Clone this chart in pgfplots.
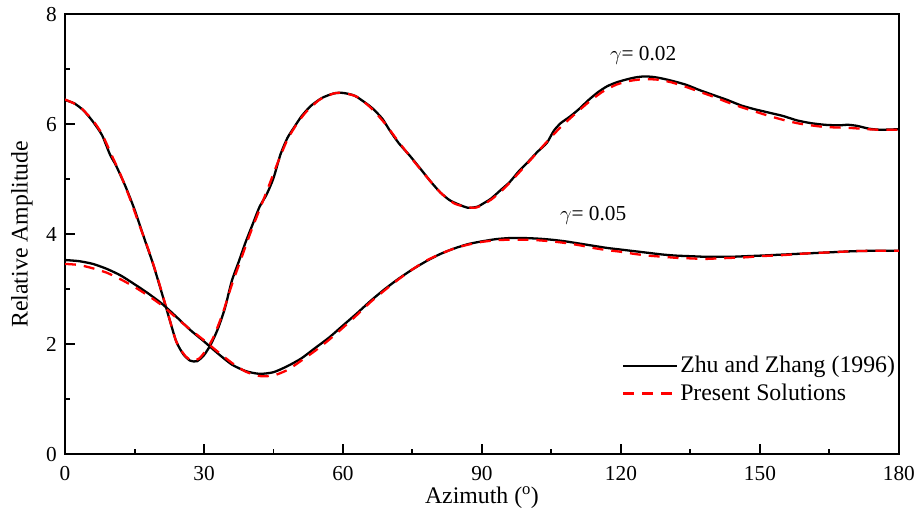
\documentclass[border={4bp 0bp 0bp 0bp}]{standalone}
\usepackage{pgfplots}
\pgfplotsset{compat=1.18}
\usepackage{fontspec}
\setmainfont{Liberation Serif}
\definecolor{curveRed}{HTML}{FF0000}

\begin{document}
\fontsize{21.5}{25}\selectfont
\begin{tikzpicture}
\begin{axis}[
  scale only axis,
  width=838bp, height=442bp,
  xmin=0, xmax=180, ymin=0, ymax=8,
  xtick={0,30,...,180}, ytick={0,2,...,8},
  minor xtick={15,45,...,165}, minor ytick={1,3,5,7},
  tick align=inside, xtick pos=bottom, ytick pos=left,
  major tick length=10bp, minor tick length=5.5bp,
  tick style={black,line width=2bp},
  axis line style={line width=2.4bp},
  ticklabel style={font=\fontsize{21.5}{25}\selectfont},
  /pgf/number format/assume math mode=true,
  xticklabel style={yshift=-5bp},
  yticklabel style={xshift=-1bp},
  xlabel={Azimuth ($^{\rm o}$)}, ylabel={Relative Amplitude},
  label style={font=\fontsize{24}{28}\selectfont},
  xlabel style={yshift=9bp}, ylabel style={yshift=-1bp},
  legend style={at={(0.668,0.228)}, anchor=north west, draw=none, fill=none,
    font=\fontsize{24}{28}\selectfont, row sep=4bp, inner sep=0pt,
    cells={anchor=west}},
  legend image code/.code={\draw[#1] (0bp,0bp) -- (54bp,0bp);},
  legend cell align=left,
]
% gamma = 0.02, Zhu and Zhang
\addplot[black, line width=2.3bp, smooth, tension=0.4] coordinates {
 (0,6.44) (2,6.38) (4,6.25) (6,6.05) (8,5.80) (9.7,5.45) (11,5.25) (13,4.88)
 (15,4.45) (17,3.95) (19,3.46) (21,2.90) (22.6,2.44) (24,2.05) (25.5,1.82)
 (27,1.70) (28.5,1.69) (30,1.80) (31.5,2.00) (33,2.28) (34.5,2.65) (36,3.15)
 (37.5,3.50) (39,3.86) (40.5,4.18) (42,4.50) (43.5,4.72) (45,5.02) (46.5,5.45)
 (48,5.75) (49.5,5.95) (51,6.14) (53,6.33) (55.5,6.48) (58,6.56) (60,6.57)
 (62.5,6.52) (65,6.38) (66.5,6.28) (68.5,6.10) (70,5.90) (72,5.66) (74.5,5.42)
 (77,5.16) (79,4.95) (81,4.76) (83,4.62) (85,4.54) (87,4.48) (89,4.50)
 (90.5,4.57) (92,4.65) (94,4.80) (96,4.95) (98,5.15) (100,5.32) (102,5.50)
 (104,5.66) (105.5,5.88) (107,6.02) (109,6.14) (111,6.28) (113,6.44) (115,6.58)
 (117,6.69) (119,6.76) (121,6.81) (123,6.85) (125,6.87) (127,6.86) (129,6.83)
 (131,6.79) (134,6.72) (137,6.62) (140,6.53) (143,6.44) (146,6.34) (149,6.27)
 (152,6.21) (155,6.15) (158,6.07) (161,6.02) (164,5.99) (167,5.98) (169,5.99)
 (171,5.97) (173.5,5.92) (176,5.90) (180,5.91)
};
\addlegendentry{Zhu and Zhang (1996)}
% gamma = 0.02, present
\addplot[curveRed, line width=2.3bp, dash pattern=on 11bp off 8bp, smooth, tension=0.4] coordinates {
 (0,6.45) (3,6.33) (6,6.07) (8,5.82) (10,5.45) (12,5.08) (14,4.65) (16,4.18)
 (18,3.72) (20,3.20) (22,2.62) (24,2.05) (26,1.78) (27.5,1.70) (29,1.74)
 (30.5,1.90) (32,2.12) (34,2.55) (36,3.08) (38,3.55) (40,4.02) (42,4.45)
 (44,4.88) (46,5.32) (48,5.72) (50,6.00) (52,6.22) (55,6.45) (58,6.56) (60,6.57)
 (63,6.50) (66,6.30) (69,6.02) (72,5.68) (75,5.36) (78,5.05) (81,4.76) (84,4.56)
 (87,4.49) (89,4.49) (92,4.63) (95,4.85) (98,5.12) (101,5.40) (104,5.68)
 (107,5.95) (110,6.18) (113,6.40) (116,6.59) (119,6.72) (122,6.79) (125,6.82)
 (128,6.81) (131,6.76) (134,6.68) (137,6.59) (140,6.50) (143,6.40) (146,6.31)
 (149,6.23) (152,6.15) (155,6.08) (158,6.02) (161,5.98) (164,5.95) (167,5.94)
 (170,5.93) (173,5.91) (176,5.90) (180,5.90)
};
\addlegendentry{Present Solutions}
% gamma = 0.05, Zhu and Zhang
\addplot[black, line width=2.3bp, smooth, tension=0.4, forget plot] coordinates {
 (0,3.53) (3,3.51) (6,3.46) (9,3.37) (12,3.25) (15,3.09) (18,2.92) (21,2.73)
 (24,2.50) (27,2.26) (30,2.05) (33,1.83) (36,1.63) (39,1.51) (42,1.46) (45,1.49)
 (48,1.60) (51,1.74) (54,1.93) (57,2.12) (60,2.34) (63,2.56) (66,2.79) (69,3.00)
 (72,3.19) (75,3.36) (78,3.51) (81,3.64) (84,3.74) (87,3.82) (90,3.87) (93,3.91)
 (96,3.93) (99,3.93) (102,3.92) (105,3.90) (108,3.87) (111,3.83) (114,3.79)
 (117,3.75) (120,3.72) (123,3.69) (126,3.66) (129,3.63) (132,3.61) (135,3.60)
 (138,3.59) (141,3.59) (144,3.59) (147,3.60) (150,3.61) (155,3.63) (160,3.65)
 (165,3.67) (170,3.69) (175,3.70) (180,3.70)
};
% gamma = 0.05, present
\addplot[curveRed, line width=2.3bp, dash pattern=on 11bp off 8bp, smooth, tension=0.4, forget plot] coordinates {
 (0,3.46) (3,3.44) (6,3.38) (9,3.30) (12,3.18) (15,3.04) (18,2.88) (21,2.70)
 (24,2.48) (27,2.27) (30,2.07) (33,1.86) (36,1.66) (39,1.50) (42,1.42) (45,1.43)
 (48,1.53) (51,1.70) (54,1.88) (57,2.08) (60,2.30) (63,2.53) (66,2.77) (69,2.98)
 (72,3.18) (75,3.36) (78,3.52) (81,3.64) (84,3.74) (87,3.81) (90,3.86) (93,3.89)
 (96,3.90) (99,3.90) (102,3.89) (105,3.87) (108,3.84) (111,3.80) (114,3.75)
 (117,3.71) (120,3.68) (123,3.64) (126,3.61) (129,3.59) (132,3.57) (135,3.56)
 (138,3.55) (141,3.56) (144,3.57) (147,3.58) (150,3.60) (155,3.62) (160,3.65)
 (165,3.67) (170,3.69) (175,3.70) (180,3.70)
};
\node[font=\fontsize{21.5}{25}\selectfont] at (axis cs:124.8,7.26) {$\gamma$= 0.02};
\node[font=\fontsize{21.5}{25}\selectfont] at (axis cs:114.0,4.34) {$\gamma$= 0.05};
\end{axis}
\end{tikzpicture}
\end{document}
